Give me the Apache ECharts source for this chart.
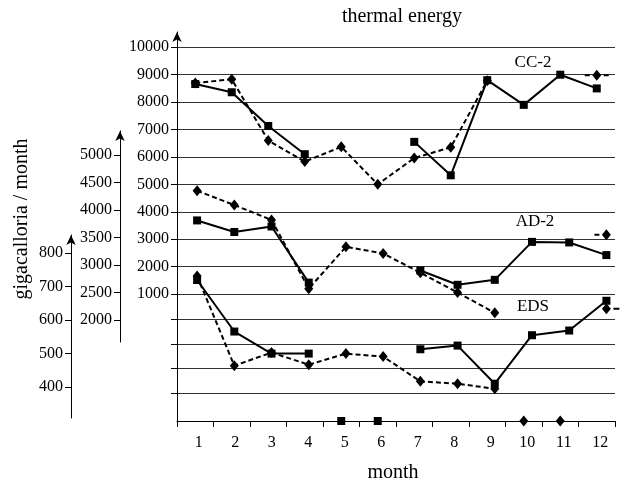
<!DOCTYPE html>
<html><head><meta charset="utf-8">
<script src="https://cdn.jsdelivr.net/npm/echarts@6/dist/echarts.min.js"></script>
<style>html,body{margin:0;padding:0;background:#fff}#c{width:625px;height:488px}</style>
</head><body><div id="c"></div>
<script>
// ---- data ----
const months = ['1','2','3','4','5','6','7','8','9','10','11','12'];
const cc2Solid  = [8660, 8360, 7130, 6100, null, null, 6550, 5330, 8800, 7900, 9000, 8500];
const cc2Dashed = [8700, 8830, 6600, 5830, 6370, 5000, 5960, 6350, 8780, null, null, 8980];
const ad2Solid  = [3810, 3600, 3700, 2680, null, null, 2900, 2640, 2730, 3420, 3410, 3180];
const ad2Dashed = [4350, 4090, 3820, 2570, 3330, 3210, 2860, 2500, 2130, null, null, 3550];
const edsSolid  = [720, 566, 500, 500, null, null, 513, 524, 410, 555, 569, 658];
const edsDashed = [732, 464, 503, 467, 500, 491, 417, 410, 395, null, null, 634];
const zeroSolid  = [null, null, null, null, 0, 0, null, null, null, null, null, null];
const zeroDashed = [null, null, null, null, null, null, null, null, null, 0, 0, null];
const mainTicks = [1000, 2000, 3000, 4000, 5000, 6000, 7000, 8000, 9000, 10000];
const mainLowerGrid = [77, -835, -1725, -2622];
const ad2Ticks = [2000, 2500, 3000, 3500, 4000, 4500, 5000];
const edsTicks = [400, 500, 600, 700, 800];

const FONT = 'Liberation Serif';
const chart = echarts.init(document.getElementById('c'), null, {renderer:'canvas'});

// diamond markers with short dash stubs (style only)
const SYM_BOTH  = 'path://M0,4.5L5,4.5L5,6.5L0,6.5Z M12,0L16.5,5.5L12,11L7.5,5.5Z M19,4.5L24,4.5L24,6.5L19,6.5Z';
const SYM_LEFT  = 'path://M0,4.5L5,4.5L5,6.5L0,6.5Z M12,0L16.5,5.5L12,11L7.5,5.5Z';
const SYM_RIGHT = 'path://M4.5,0L9,5.5L4.5,11L0,5.5Z M11.5,4.5L17.5,4.5L17.5,6.5L11.5,6.5Z';
function endMarker(arr, sym, size, offset) {
  return arr.map((v, i) => (i === arr.length - 1 && v != null)
    ? {value: v, symbol: sym, symbolSize: size, symbolOffset: offset} : v);
}

function lineSeries(data, xi, yi, dashed) {
  return {
    type: 'line', data: data, xAxisIndex: xi, yAxisIndex: yi,
    symbol: dashed ? 'diamond' : 'rect',
    symbolSize: dashed ? [9, 11] : 8,
    showSymbol: true, showAllSymbol: true, connectNulls: false, clip: false,
    lineStyle: {color: '#000', width: 2, type: dashed ? [5, 3] : 'solid'},
    itemStyle: {color: '#000', opacity: 1},
    z: dashed ? 3 : 4, animation: false, silent: true
  };
}
function scatterSeries(data, sym) {
  return {type: 'scatter', data: data, xAxisIndex: 0, yAxisIndex: 1,
    symbol: sym, symbolSize: sym === 'diamond' ? [9, 11] : 8,
    itemStyle: {color: '#000', opacity: 1}, z: 5, animation: false, silent: true};
}
const plain = v => String(v);
const axisTxt = {color: '#000', fontFamily: FONT, fontSize: 16, formatter: plain};
const blk = {color: '#000', width: 1};

const option = {
  animation: false,
  grid: [
    {left: 177, right: 10, top: 32, height: 389},
    {left: 178.5, width: 449, top: 131, height: 211},
    {left: 178.5, width: 449, top: 235, height: 183}
  ],
  xAxis: [
    {gridIndex: 0, type: 'category', data: months, boundaryGap: true, position: 'bottom',
     axisLine: {show: true, onZero: false, lineStyle: blk},
     axisTick: {show: true, length: 6, lineStyle: blk},
     axisLabel: Object.assign({margin: 14, padding: [0, 0, 0, 7], interval: 0}, axisTxt)},
    {gridIndex: 1, type: 'category', data: months, boundaryGap: true, show: false},
    {gridIndex: 2, type: 'category', data: months, boundaryGap: true, show: false}
  ],
  yAxis: [
    {gridIndex: 0, type: 'value', min: -3633, max: 10558,
     axisLine: {show: true, symbol: ['none', 'arrow'], symbolSize: [7, 10], lineStyle: blk},
     axisTick: {show: true, length: 6, lineStyle: blk, customValues: mainTicks.concat(mainLowerGrid)},
     axisLabel: Object.assign({margin: 8, customValues: mainTicks}, axisTxt),
     splitLine: {show: true, lineStyle: {color: '#333', width: 1}}},
    {gridIndex: 0, type: 'value', min: 0, max: 1, show: false},
    {gridIndex: 1, type: 'value', min: 1600, max: 5436, position: 'left', offset: 58.5,
     axisLine: {show: true, symbol: ['none', 'arrow'], symbolSize: [7, 10], lineStyle: blk},
     axisTick: {show: true, length: 6, lineStyle: blk, customValues: ad2Ticks},
     axisLabel: Object.assign({margin: 8, customValues: ad2Ticks}, axisTxt),
     splitLine: {show: false}},
    {gridIndex: 2, type: 'value', min: 307.5, max: 854.6, position: 'left', offset: 107.5,
     axisLine: {show: true, symbol: ['none', 'arrow'], symbolSize: [7, 10], lineStyle: blk},
     axisTick: {show: true, length: 6, lineStyle: blk, customValues: edsTicks},
     axisLabel: Object.assign({margin: 8, customValues: edsTicks}, axisTxt),
     splitLine: {show: false}}
  ],
  series: [
    lineSeries(endMarker(cc2Dashed, SYM_BOTH, [24, 11], [0, 0]), 0, 0, true),
    lineSeries(cc2Solid, 0, 0, false),
    lineSeries(endMarker(ad2Dashed, SYM_LEFT, [16.5, 11], [-3.75, 0]), 1, 2, true),
    lineSeries(ad2Solid, 1, 2, false),
    lineSeries(endMarker(edsDashed, SYM_RIGHT, [17.5, 11], [4.25, 0]), 2, 3, true),
    lineSeries(edsSolid, 2, 3, false),
    scatterSeries(zeroSolid, 'rect'),
    scatterSeries(zeroDashed, 'diamond')
  ],
  graphic: [
    {type: 'text', x: 402, y: 17, style: {text: 'thermal energy', fill: '#000', font: '20px "Liberation Serif"', align: 'center', verticalAlign: 'middle'}},
    {type: 'text', x: 393, y: 473, style: {text: 'month', fill: '#000', font: '20px "Liberation Serif"', align: 'center', verticalAlign: 'middle'}},
    {type: 'text', x: 22, y: 219, rotation: Math.PI / 2, style: {text: 'gigacalloria / month', fill: '#000', font: '20px "Liberation Serif"', align: 'center', verticalAlign: 'middle'}},
    {type: 'text', x: 533, y: 63, style: {text: 'CC-2', fill: '#000', font: '17px "Liberation Serif"', align: 'center', verticalAlign: 'middle'}},
    {type: 'text', x: 535, y: 222, style: {text: 'AD-2', fill: '#000', font: '17px "Liberation Serif"', align: 'center', verticalAlign: 'middle'}},
    {type: 'text', x: 533, y: 307, style: {text: 'EDS', fill: '#000', font: '17px "Liberation Serif"', align: 'center', verticalAlign: 'middle'}}
  ]
};
chart.setOption(option);
</script>
</body></html>
